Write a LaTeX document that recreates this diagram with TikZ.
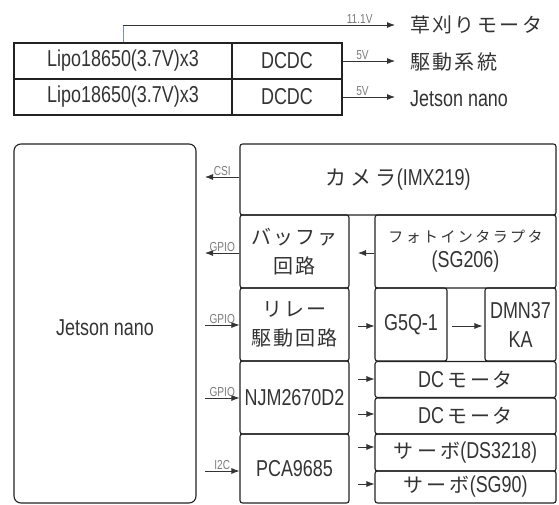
\documentclass[tikz,border=0pt]{standalone}
\usepackage{fontspec}
\setmainfont[FakeStretch=0.78]{Liberation Sans}
\newfontfamily\jpfont{Noto Sans CJK JP}
\usetikzlibrary{arrows.meta}
\definecolor{ln}{HTML}{222222}
\definecolor{tx}{HTML}{333333}
\definecolor{lb}{HTML}{7A7A7A}
\definecolor{bl}{HTML}{7D90B0}
\definecolor{ar}{HTML}{333333}
\newcommand\Jt[3]{{\jpfont\fontsize{#1}{#1}\selectfont\addfontfeatures{LetterSpace=#2}#3}}
\newcommand\La{\fontsize{23}{28}\selectfont}
\newcommand\Ls{\fontsize{13}{14}\selectfont}
\begin{document}
\begin{tikzpicture}[x=1pt,y=-1pt,
  bx/.style={draw=ln, line width=1.1pt, inner sep=0pt, align=center, text=tx, font=\La, rounded corners=2.5pt},
  sq/.style={bx, rounded corners=0pt},
  arr/.style={draw=ar, line width=0.8pt, -{Latex[length=8pt,width=6pt]}},
  lbl/.style={text=lb, font=\Ls, inner sep=1.2pt},
  rtxt/.style={anchor=west, text=tx, inner sep=0pt, font=\La}]
\useasboundingbox (0,0) rectangle (559,505);

% ---------- power section ----------
\node[sq, minimum width=218pt, minimum height=36pt] (lipo1) at (123,61) {Lipo18650(3.7V)x3};
\node[sq, minimum width=110pt, minimum height=36pt] (dc1) at (287,61) {DCDC};
\node[sq, minimum width=218pt, minimum height=36pt] (lipo2) at (123,97) {Lipo18650(3.7V)x3};
\node[sq, minimum width=110pt, minimum height=36pt] (dc2) at (287,97) {DCDC};

\node[rtxt] (t1) at (410,25) {\Jt{20}{12}{草刈りモータ}};
\node[rtxt] (t2) at (410,62) {\Jt{20}{12}{駆動系統}};
\node[rtxt] (t3) at (410,99) {Jetson nano};

\coordinate (k1) at (123,25);
\coordinate (e1) at (395,25);
\coordinate (e2) at (395,61);
\coordinate (e3) at (395,97);
\draw[draw=bl, line width=0.8pt] (lipo1.north) -- (k1);
\draw[arr] (k1) -- (e1) node[lbl, pos=0.87, above] {11.1V};
\draw[arr] (dc1.east) -- (e2) node[lbl, pos=0.38, above] {5V};
\draw[arr] (dc2.east) -- (e3) node[lbl, pos=0.38, above] {5V};

% ---------- control section ----------
\node[bx, rounded corners=7pt, minimum width=182pt, minimum height=359pt] (jet) at (105,323.5) {};
\node[text=tx, font=\La, inner sep=0pt] (jetl) at (105,328) {Jetson nano};

\node[bx, minimum width=316pt, minimum height=71pt] (cam) at (398,179.5) {\Jt{21}{20}{カメラ}(IMX219)};
\node[bx, minimum width=109pt, minimum height=73pt] (buf) at (294.5,251.5) {\Jt{20}{10}{バッファ}\\[1pt]\Jt{20}{10}{回路}};
\node[bx, minimum width=181pt, minimum height=73pt] (pho) at (465.5,251.5) {\Jt{15}{16}{フォトインタラプタ}\\[-3pt](SG206)};
\node[bx, minimum width=109pt, minimum height=73pt] (rel) at (294.5,324.5) {\Jt{20}{10}{リレー}\\[1pt]\Jt{20}{10}{駆動回路}};
\node[bx, minimum width=72pt, minimum height=73pt] (g5q) at (411,324.5) {G5Q-1};
\node[bx, minimum width=71pt, minimum height=73pt] (dmn) at (520.5,324.5) {DMN37\\[1pt]KA};
\node[bx, minimum width=109pt, minimum height=73pt] (njm) at (294.5,397.5) {NJM2670D2};
\node[bx, minimum width=109pt, minimum height=69pt] (pca) at (294.5,468.5) {PCA9685};
\node[bx, minimum width=181pt, minimum height=36pt] (dcm1) at (465.5,379.5) {DC\,\Jt{20}{12}{モータ}};
\node[bx, minimum width=181pt, minimum height=36pt] (dcm2) at (465.5,416) {DC\,\Jt{20}{12}{モータ}};
\node[bx, minimum width=181pt, minimum height=37pt] (sv1) at (465.5,452.5) {\Jt{20}{16}{サーボ}(DS3218)};
\node[bx, minimum width=181pt, minimum height=32pt] (sv2) at (465.5,487) {\Jt{20}{16}{サーボ}(SG90)};

% connectors to/from Jetson
\coordinate (c0) at (205,177);
\coordinate (c1) at (205,253);
\coordinate (c2) at (205,325);
\coordinate (c3) at (205,398);
\coordinate (c4) at (205,471);
\draw[arr] (cam.west |- c0) -- (c0) node[lbl, midway, above] {CSI};
\draw[arr] (buf.west |- c1) -- (c1) node[lbl, midway, above] {GPIO};
\draw[arr] (c2) -- (rel.west |- c2) node[lbl, midway, above] {GPIO};
\draw[arr] (c3) -- (njm.west |- c3) node[lbl, midway, above] {GPIO};
\draw[arr] (c4) -- (pca.west |- c4) node[lbl, midway, above] {I2C};

% inner connectors
\coordinate (p1) at (358,253);
\coordinate (q0) at (358,326);
\draw[arr] (pho.west |- p1) -- (p1);
\draw[arr] (q0) -- (g5q.west |- q0);
\draw[arr, shorten <=4pt, shorten >=2pt] (g5q.east |- q0) -- (dmn.west |- q0);

\coordinate (m1) at (358,379);
\coordinate (m2) at (358,414);
\coordinate (m3) at (358,447);
\coordinate (m4) at (358,484);
\draw[arr] (m1) -- (dcm1.west |- m1);
\draw[arr] (m2) -- (dcm2.west |- m2);
\draw[arr] (m3) -- (sv1.west |- m3);
\draw[arr] (m4) -- (sv2.west |- m4);
\end{tikzpicture}
\end{document}
